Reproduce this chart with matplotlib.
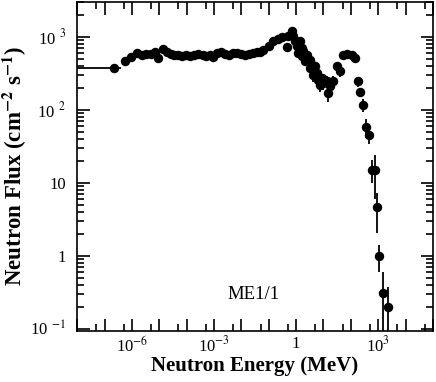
import numpy as np
import matplotlib
matplotlib.use('Agg')
import matplotlib.pyplot as plt
from matplotlib.ticker import LogLocator, FixedLocator, FixedFormatter, NullFormatter

plt.rcParams['font.family'] = ['Liberation Serif', 'DejaVu Serif']
plt.rcParams['mathtext.fontset'] = 'stix'

## measured spectrum (MeV, cm^-2 s^-1) and relative errors
energy = [5.6e-7, 9.0e-7, 1.48e-6, 2.25e-6, 3.2e-6, 4.8e-6, 6.7e-6, 9.2e-6, 1.39e-5,
          1.95e-5, 2.6e-5, 3.6e-5, 5.0e-5, 7.0e-5, 9.8e-5, 1.37e-4, 1.92e-4, 2.7e-4,
          3.8e-4, 5.3e-4, 7.4e-4, 9.5e-4, 1.32e-3, 1.85e-3, 2.6e-3, 3.6e-3, 5.1e-3,
          7.1e-3, 9.9e-3, 1.39e-2, 1.94e-2, 2.7e-2, 3.8e-2, 4.9e-2,
          6.4e-2, 9.8e-2, 0.149, 0.226, 0.30, 0.46, 0.52, 0.70, 0.80, 0.92, 1.11,
          1.40, 1.61, 1.21, 1.85, 1.65, 2.45, 2.13, 3.24, 3.73, 3.1, 4.9, 4.27,
          5.7, 6.5, 8.6, 7.5, 9.9, 13.1, 17.3, 15.0, 22.8, 30.4, 40, 53, 74, 107,
          141, 177, 215, 283, 355, 456, 572, 755, 871, 1083, 1440, 2190]
flux = [459, 527, 598, 555, 585, 585, 617, 511, 679,
        617, 585, 566, 566, 549, 566, 549, 566, 585,
        566, 549, 566, 532, 604, 624, 585, 566, 604,
        604, 585, 566, 585, 604, 624, 624,
        664, 736, 881, 940, 978, 723, 1010, 1208, 1010, 863, 736,
        863, 700, 598, 630, 537, 566, 459, 484, 413, 372, 392, 301,
        318, 258, 272, 220, 232, 244, 209, 169, 244, 392, 335, 566, 579, 555,
        511, 244, 175, 117, 58, 45.5, 15.1, 15.1, 4.6, 1.0, 0.31, 0.20]
rel_err = [0.04] * 34 + \
          [0.06, 0.06, 0.06, 0.06, 0.06, 0.08, 0.08, 0.12, 0.08, 0.1, 0.1,
           0.12, 0.12, 0.12, 0.12, 0.12, 0.12, 0.12, 0.15, 0.15, 0.15, 0.15, 0.2,
           0.15, 0.2, 0.15, 0.2, 0.2, 0.2, 0.2, 0.25, 0.2, 0.15, 0.15, 0.12, 0.12, 0.15,
           0.15, 0.15, 0.15, 0.2, 0.3, 0.25, 0.35, 0.6, 0.55, 0.41, 0.9, 0.85]

## thermal bin, plotted with its energy width
thermal_e = 2.15e-7
thermal_bin = (1e-9, 3.9e-7)
thermal_flux = 376

fig = plt.figure(figsize=(4.36, 3.82), dpi=100)
ax = fig.add_axes([0.177, 0.134, 0.816, 0.861])

flux = np.array(flux)
yerr = np.array(rel_err) * flux
ax.errorbar(energy, flux, yerr=[np.minimum(yerr, flux * 0.999), yerr], fmt='o', color='black',
            ms=5.8, elinewidth=1.3, capsize=0)
ax.errorbar([thermal_e], [thermal_flux],
            xerr=[[thermal_e - thermal_bin[0]], [thermal_bin[1] - thermal_e]],
            fmt='o', color='black', ms=5.8, elinewidth=1.3, capsize=0)

ax.set_xscale('log')
ax.set_yscale('log')
ax.set_xlim(1e-8, 1e5)
ax.set_ylim(0.093, 3000)

ax.xaxis.set_minor_locator(LogLocator(base=10, subs=(5,), numticks=30))
ax.xaxis.set_major_locator(FixedLocator([10.0 ** k for k in range(-8, 6)]))
xlabels = {-6: '10$^{-6}$', -3: '10$^{-3}$', 0: '1', 3: '10$^{3}$'}
ax.xaxis.set_major_formatter(FixedFormatter([xlabels.get(k, '') for k in range(-8, 6)]))
ax.xaxis.set_minor_formatter(NullFormatter())

ax.yaxis.set_major_locator(FixedLocator([0.1, 1, 10, 100, 1000]))
ax.yaxis.set_major_formatter(FixedFormatter(['10 $^{-1}$', '1', '10', '10 $^{2}$', '10 $^{3}$']))
ax.yaxis.set_minor_locator(LogLocator(base=10, subs=np.arange(2, 10), numticks=30))
ax.yaxis.set_minor_formatter(NullFormatter())

ax.tick_params(which='both', direction='in', top=True, right=True, width=1.2, labelsize=12)
ax.tick_params(which='major', length=9)
ax.tick_params(which='minor', length=5)
ax.tick_params(axis='y', pad=8)
for s in ax.spines.values():
    s.set_linewidth(1.2)

ax.set_xlabel('Neutron Energy (MeV)', fontsize=15, fontweight='bold', labelpad=0)
ax.set_ylabel(r'Neutron Flux (cm$^{\mathbf{-2}}$ s$^{\mathbf{-1}}$)', fontsize=16.5,
              fontweight='bold', labelpad=1)
ax.text(0.497, 0.11, 'ME1/1', transform=ax.transAxes, ha='center', va='center', fontsize=13.5)

fig.savefig('out.png', dpi=100)
